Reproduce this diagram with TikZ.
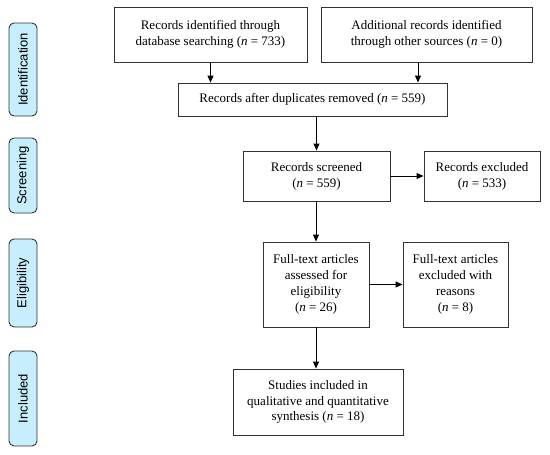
\documentclass[tikz,border=0pt]{standalone}
\usepackage{fontspec}
\setmainfont{Liberation Serif}
\newfontfamily\sidefont{Liberation Sans}
\usetikzlibrary{arrows.meta}
\definecolor{sideblue}{HTML}{C6EEFC}
\definecolor{edge}{HTML}{333333}
\begin{document}
\begin{tikzpicture}[x=1pt,y=1pt,
  box/.style={draw=edge,line width=0.9pt,align=center,inner sep=0pt,
    font=\fontsize{13}{15.8}\selectfont},
  side/.style={draw=edge,line width=0.9pt,fill=sideblue,rounded corners=5pt,
    rotate=90,inner sep=0pt,minimum height=28pt,
    font=\sidefont\fontsize{13}{15}\selectfont},
  arr/.style={draw=black,line width=0.9pt,-{Triangle[length=7pt,width=6pt]}}]
\useasboundingbox (0,0) rectangle (550,-455);
\node[side,minimum width=93pt] (s1) at (23,-69.5) {Identification};
\node[side,minimum width=75pt] (s2) at (23,-175.5) {Screening};
\node[side,minimum width=88pt] (s3) at (23,-283) {Eligibility};
\node[side,minimum width=95pt] (s4) at (23,-398.5) {Included};

\node[box,minimum width=193pt,minimum height=55pt] (b1) at (210.5,-34.5)
  {Records identified through\\database searching (\textit{n} = 733)};
\node[box,minimum width=211pt,minimum height=55pt] (b2) at (426.5,-34.5)
  {Additional records identified\\through other sources (\textit{n} = 0)};
\node[box,minimum width=269pt,minimum height=33pt] (b3) at (312.5,-99.5)
  {Records after duplicates removed (\textit{n} = 559)};
\node[box,minimum width=147pt,minimum height=50pt] (b4) at (316.5,-176)
  {Records screened\\(\textit{n} = 559)};
\node[box,minimum width=116pt,minimum height=50pt] (b5) at (482,-176)
  {Records excluded\\(\textit{n} = 533)};
\node[box,minimum width=106pt,minimum height=85pt] (b6) at (316,-284.5)
  {Full-text articles\\assessed for\\eligibility\\(\textit{n} = 26)};
\node[box,minimum width=105pt,minimum height=85pt] (b7) at (455.5,-284.5)
  {Full-text articles\\excluded with\\reasons\\(\textit{n} = 8)};
\node[box,minimum width=170pt,minimum height=66pt] (b8) at (318,-402)
  {Studies included in\\qualitative and quantitative\\synthesis (\textit{n} = 18)};

\coordinate (c2) at (418,0);
\draw[arr] (b1.south) -- (b3.north -| b1.south);
\draw[arr] (b2.south -| c2) -- (b3.north -| c2);
\draw[arr] (b3.south -| b4.north) -- (b4.north);
\draw[arr] (b4.east) -- (b5.west);
\draw[arr] (b4.south -| b6.north) -- (b6.north);
\draw[arr] (b6.east) -- (b7.west);
\draw[arr] (b6.south) -- (b8.north -| b6.south);
\end{tikzpicture}
\end{document}
